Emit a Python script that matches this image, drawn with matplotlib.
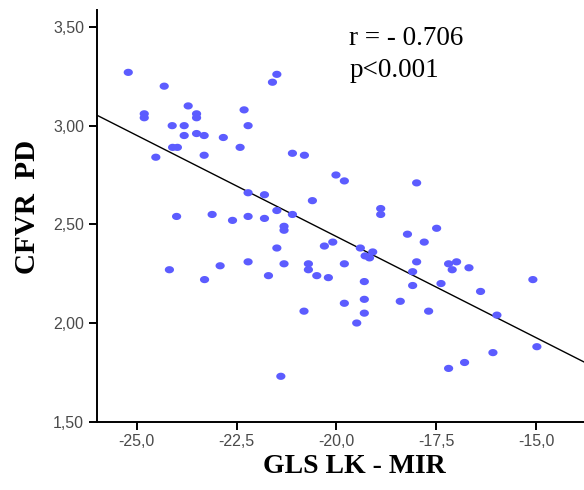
import numpy as np
import matplotlib
matplotlib.use('Agg')
import matplotlib.pyplot as plt
from matplotlib.path import Path

# GLS LK - MIR (x) y CFVR PD (y)
gls = [-25.21, -24.31, -24.81, -24.81, -23.71, -23.50, -23.50, -24.11, -23.81, -23.81,
       -23.50, -23.31, -22.83, -24.10, -23.98, -24.52, -23.31, -22.41, -22.31, -22.21,
       -21.60, -21.49, -21.10, -20.80, -20.01, -19.80, -17.99, -22.21, -21.80, -20.60,
       -21.49, -21.10, -24.00, -23.11, -22.60, -22.21, -21.80, -21.31, -21.31, -20.09,
       -20.30, -21.49, -22.91, -24.18, -23.30, -22.21, -21.70, -21.31, -20.70, -20.70,
       -20.49, -20.20, -20.81, -21.39, -18.89, -18.89, -18.22, -17.49, -17.80, -19.40,
       -19.09, -19.28, -19.17, -19.80, -17.99, -18.09, -17.19, -16.99, -17.10, -16.68,
       -17.38, -18.09, -19.30, -19.80, -19.30, -18.40, -19.30, -17.69, -19.49, -17.19,
       -15.08, -16.39, -15.98, -16.08, -14.98, -16.79]
cfvr = [3.27, 3.20, 3.06, 3.04, 3.10, 3.06, 3.04, 3.00, 3.00, 2.95,
        2.96, 2.95, 2.94, 2.89, 2.89, 2.84, 2.85, 2.89, 3.08, 3.00,
        3.22, 3.26, 2.86, 2.85, 2.75, 2.72, 2.71, 2.66, 2.65, 2.62,
        2.57, 2.55, 2.54, 2.55, 2.52, 2.54, 2.53, 2.49, 2.47, 2.41,
        2.39, 2.38, 2.29, 2.27, 2.22, 2.31, 2.24, 2.30, 2.30, 2.27,
        2.24, 2.23, 2.06, 1.73, 2.58, 2.55, 2.45, 2.48, 2.41, 2.38,
        2.36, 2.34, 2.33, 2.30, 2.31, 2.26, 2.30, 2.31, 2.27, 2.28,
        2.20, 2.19, 2.21, 2.10, 2.12, 2.11, 2.05, 2.06, 2.00, 1.77,
        2.22, 2.16, 2.04, 1.85, 1.88, 1.80]

xticks = [-25.0, -22.5, -20.0, -17.5, -15.0]
xlabels = ['-25,0', '-22,5', '-20,0', '-17,5', '-15,0']
yticks = [1.5, 2.0, 2.5, 3.0, 3.5]
ylabels = ['1,50', '2,00', '2,50', '3,00', '3,50']

# recta de regresion
pend, inter = np.polyfit(gls, cfvr, 1)

# marcador eliptico (la imagen original esta estirada)
t = np.linspace(0, 2 * np.pi, 40)
elipse = Path(np.column_stack([1.28 * np.cos(t), np.sin(t)]))

fig = plt.figure(figsize=(5.84, 4.9), dpi=100)
ax = fig.add_axes([0.1656, 0.1394, 0.8344, 0.8402])

ax.scatter(gls, cfvr, marker=elipse, s=44, color='#5C5CFF', edgecolors='none', zorder=3)
xs = np.array([-26.0, -13.8])
ax.plot(xs, inter + pend * xs, color='black', lw=1.0, zorder=2)

ax.set_xlim(-26.0, -13.8)
ax.set_ylim(1.5, 3.586)
ax.set_xticks(xticks)
ax.set_xticklabels(xlabels)
ax.set_yticks(yticks)
ax.set_yticklabels(ylabels)

for s in ['top', 'right']:
    ax.spines[s].set_visible(False)
for s in ['left', 'bottom']:
    ax.spines[s].set_linewidth(1.4)
ax.tick_params(length=6, width=1.4, color='black', labelcolor='#4a4a4a',
               labelsize=11.5, pad=3)
for lab in ax.get_xticklabels() + ax.get_yticklabels():
    lab.set_family('Liberation Sans')

fig.text(0.606, 0.047, 'GLS LK - MIR', family='Liberation Serif', fontweight='bold',
         fontsize=20, ha='center', va='center')
fig.text(0.047, 0.578, 'CFVR  PD', family='Liberation Serif', fontweight='bold',
         fontsize=21, ha='center', va='center', rotation=90)

fig.text(0.598, 0.908, 'r = - 0.706', family='Liberation Serif', fontsize=19.5,
         ha='left', va='baseline')
fig.text(0.598, 0.843, 'p<0.001', family='Liberation Serif', fontsize=19.5,
         ha='left', va='baseline')

fig.savefig('out.png', dpi=100)
